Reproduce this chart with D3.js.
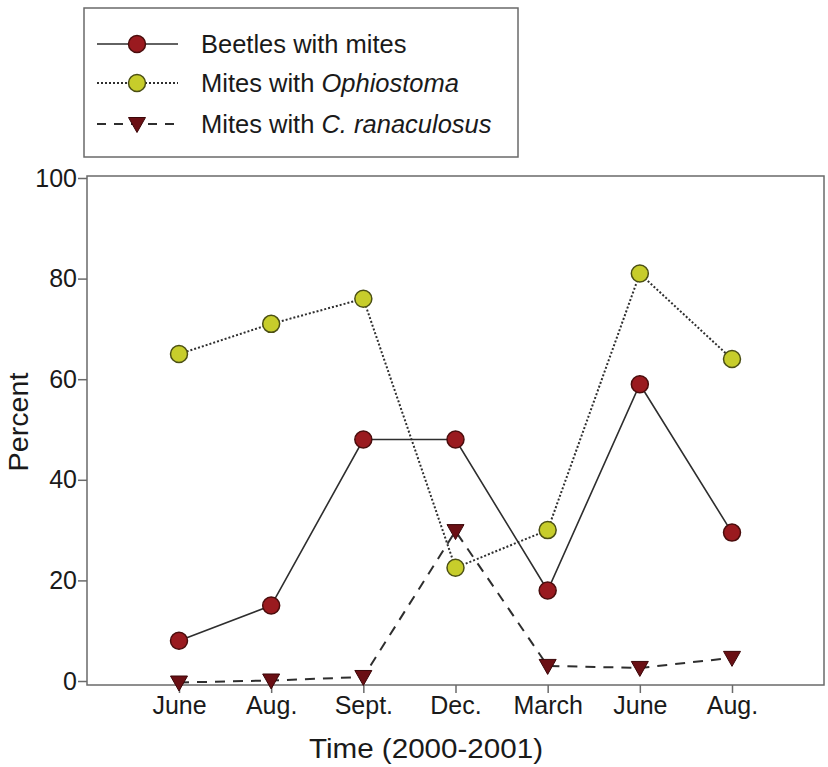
<!DOCTYPE html>
<html>
<head>
<meta charset="utf-8">
<script src="https://cdn.jsdelivr.net/npm/d3@7"></script>
<style>
  body { margin: 0; background: #fff; }
  svg { font-family: "Liberation Sans", Arial, sans-serif; }
</style>
</head>
<body>
<svg width="828" height="767"></svg>
<script>
// months along the x axis (2000-2001)
const months = ['June', 'Aug.', 'Sept.', 'Dec.', 'March', 'June', 'Aug.'];
const beetlesWithMites = [8, 15, 48, 48, 18, 59, 29.5];
const mitesWithOphiostoma = [65, 71, 76, 22.5, 30, 81, 64];
const mitesWithRanaculosus = [-0.3, 0.1, 0.8, 29.8, 3, 2.6, 4.6];
const yTicks = [0, 20, 40, 60, 80, 100];

const svg = d3.select('svg');
const box = { left: 87, right: 824, top: 176, bottom: 685 };
const fontFam = '"Liberation Sans", Arial, sans-serif';

const x = d3.scalePoint()
    .domain(d3.range(months.length))
    .range([179, 732]);
const y = d3.scaleLinear()
    .domain([0, 100])
    .range([681, 178]);

// plot frame
svg.append('rect')
    .attr('x', box.left).attr('y', box.top)
    .attr('width', box.right - box.left).attr('height', box.bottom - box.top)
    .attr('fill', 'none').attr('stroke', '#6a6a6a').attr('stroke-width', 1.5);

// y axis
const yAxis = svg.append('g')
    .attr('transform', `translate(${box.left},0)`)
    .call(d3.axisLeft(y).tickValues(yTicks).tickSize(9).tickPadding(1));
yAxis.select('.domain').remove();
yAxis.selectAll('line').attr('stroke', '#6a6a6a').attr('stroke-width', 1.5);
yAxis.selectAll('text').attr('font-size', 25).attr('fill', '#1a1a1a')
    .attr('font-family', fontFam);

// x axis
const xAxis = svg.append('g')
    .attr('transform', `translate(0,${box.bottom})`)
    .call(d3.axisBottom(x).tickFormat(i => months[i]).tickSize(8).tickPadding(3));
xAxis.select('.domain').remove();
xAxis.selectAll('line').attr('stroke', '#6a6a6a').attr('stroke-width', 1.5);
xAxis.selectAll('text').attr('font-size', 25).attr('fill', '#1a1a1a')
    .attr('font-family', fontFam);

// axis titles
svg.append('text')
    .attr('transform', 'translate(28,422) rotate(-90)')
    .attr('text-anchor', 'middle')
    .attr('font-size', 27).attr('fill', '#1a1a1a')
    .attr('textLength', 99).attr('lengthAdjust', 'spacingAndGlyphs')
    .text('Percent');
svg.append('text')
    .attr('x', 426).attr('y', 758)
    .attr('text-anchor', 'middle')
    .attr('font-size', 28).attr('fill', '#1a1a1a')
    .attr('textLength', 234).attr('lengthAdjust', 'spacingAndGlyphs')
    .text('Time (2000-2001)');

const line = d3.line().x((d, i) => x(i)).y(d => y(d));

const series = [
    { values: beetlesWithMites, dash: null, width: 1.6, shape: 'circle', fill: '#9a1a1f', stroke: '#4a0d0d' },
    { values: mitesWithOphiostoma, dash: '2,2', width: 2, shape: 'circle', fill: '#c7cd2b', stroke: '#4b4f14' },
    { values: mitesWithRanaculosus, dash: '10,8', width: 2, shape: 'tri', fill: '#6a0f14', stroke: '#3a0608' }
];

const triangle = 'M-8.5,-6.5L8.5,-6.5L0,8.5Z';

series.forEach(s => {
    svg.append('path')
        .attr('d', line(s.values))
        .attr('fill', 'none')
        .attr('stroke', '#2e2e2e')
        .attr('stroke-width', s.width)
        .attr('stroke-dasharray', s.dash);
});

series.forEach(s => {
    const pts = svg.append('g').selectAll('.pt')
        .data(s.values)
        .enter();
    if (s.shape === 'circle') {
        pts.append('circle')
            .attr('cx', (d, i) => x(i)).attr('cy', d => y(d))
            .attr('r', 8.5)
            .attr('fill', s.fill).attr('stroke', s.stroke).attr('stroke-width', 1.5);
    } else {
        pts.append('path')
            .attr('transform', (d, i) => `translate(${x(i)},${y(d)})`)
            .attr('d', triangle)
            .attr('fill', s.fill).attr('stroke', s.stroke).attr('stroke-width', 1);
    }
});

// legend
const legend = svg.append('g');
legend.append('rect')
    .attr('x', 84).attr('y', 8).attr('width', 434).attr('height', 149)
    .attr('fill', '#fff').attr('stroke', '#6a6a6a').attr('stroke-width', 1.5);

const legendRows = [
    { label: ['Beetles with mites', ''], y: 44, s: series[0] },
    { label: ['Mites with ', 'Ophiostoma'], y: 83, s: series[1] },
    { label: ['Mites with ', 'C. ranaculosus'], y: 124, s: series[2] }
];

legendRows.forEach(r => {
    legend.append('line')
        .attr('x1', 97).attr('x2', 178).attr('y1', r.y).attr('y2', r.y)
        .attr('stroke', '#2e2e2e').attr('stroke-width', r.s.width)
        .attr('stroke-dasharray', r.s.dash === '10,8' ? '9,8' : r.s.dash);
    if (r.s.shape === 'circle') {
        legend.append('circle')
            .attr('cx', 137).attr('cy', r.y).attr('r', 8.5)
            .attr('fill', r.s.fill).attr('stroke', r.s.stroke).attr('stroke-width', 1.5);
    } else {
        legend.append('path')
            .attr('transform', `translate(137,${r.y})`)
            .attr('d', triangle)
            .attr('fill', r.s.fill).attr('stroke', r.s.stroke).attr('stroke-width', 1);
    }
    const t = legend.append('text')
        .attr('x', 201).attr('y', r.y + 9)
        .attr('font-size', 25.5).attr('fill', '#1a1a1a');
    t.append('tspan').text(r.label[0]);
    t.append('tspan').attr('font-style', 'italic').text(r.label[1]);
});
</script>
</body>
</html>
